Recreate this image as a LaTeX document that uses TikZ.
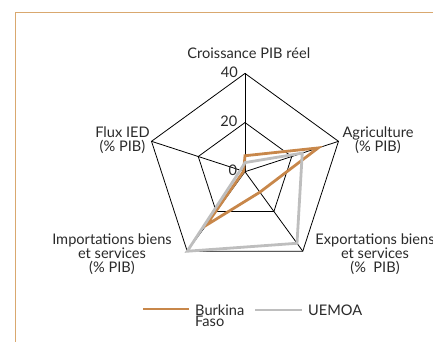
\documentclass[tikz,border=0pt]{standalone}
\usepackage{fontspec}
\setmainfont{Lato}
\definecolor{bfcol}{HTML}{C8874A}
\definecolor{uecol}{HTML}{BEBEBE}
\definecolor{framecol}{HTML}{D9A86F}
\definecolor{txt}{HTML}{2A2A2A}
\begin{document}
\begin{tikzpicture}[x=1pt,y=1pt,
  grid/.style={draw=black,line width=0.8pt,line join=miter},
  bf/.style={draw=bfcol,line width=2.8pt,line join=miter},
  ue/.style={draw=uecol,line width=2.8pt,line join=miter},
  framestyle/.style={draw=framecol,line width=1pt},
  lab/.style={text=txt,font=\fontsize{14.6}{14}\selectfont,inner sep=0pt,align=center,anchor=base},
]
\useasboundingbox (0,-342) rectangle (433,0);
\draw[framestyle] (15.3,-342) -- (15.3,-12.7) -- (433,-12.7);
\coordinate (c) at (245,-171.7);
\def\R{98.3}
\def\s{2.4575}
% axis ends
\path (c) ++(90:\R) coordinate (a1);
\path (c) ++(18:\R) coordinate (a2);
\path (c) ++(-54:\R) coordinate (a3);
\path (c) ++(-126:\R) coordinate (a4);
\path (c) ++(162:\R) coordinate (a5);
% 20 level
\path (c) ++(90:\R/2) coordinate (b1);
\path (c) ++(18:\R/2) coordinate (b2);
\path (c) ++(-54:\R/2) coordinate (b3);
\path (c) ++(-126:\R/2) coordinate (b4);
\path (c) ++(162:\R/2) coordinate (b5);
\draw[grid] (a1) -- (a2) -- (a3) -- (a4) -- (a5) -- cycle;
\draw[grid] (b1) -- (b2) -- (b3) -- (b4) -- (b5) -- cycle;
\foreach \i in {1,...,5} {\draw[grid] (c) -- (a\i);}
% Burkina Faso
\path (c) ++(90:{6.5*\s}) coordinate (p1);
\path (c) ++(18:{31.3*\s}) coordinate (p2);
\path (c) ++(-54:{10.3*\s}) coordinate (p3);
\path (c) ++(-126:{27*\s}) coordinate (p4);
\path (c) ++(162:{0.6*\s}) coordinate (p5);
% UEMOA
\path (c) ++(90:{3.7*\s}) coordinate (q1);
\path (c) ++(18:{24.5*\s}) coordinate (q2);
\path (c) ++(-54:{36*\s}) coordinate (q3);
\path (c) ++(-126:{40*\s}) coordinate (q4);
\path (c) ++(162:{2*\s}) coordinate (q5);
\draw[bf] (p1) -- (p2) -- (p3) -- (p4) -- (p5) -- cycle;
\draw[ue] (q1) -- (q2) -- (q3) -- (q4) -- (q5) -- cycle;
% scale labels
\node[lab,anchor=base east] (n40) at (238,-77.3) {40};
\node[lab,anchor=base east] (n20) at (237.5,-126.7) {20};
\node[lab,anchor=base east] (n0) at (237.3,-175.7) {0};
% axis labels (base = baseline of last line)
\node[lab] (t1) at (248.8,-58.3) {Croissance PIB réel};
\node[lab] (t2) at (378,-151.7) {Agriculture\\(\% PIB)};
\node[lab] (t3) at (375,-272.7) {Exportations biens\\et services\\(\%\ \ PIB)};
\node[lab] (t4) at (112,-272.7) {Importations biens\\et services\\(\% PIB)};
\node[lab] (t5) at (122.5,-151.7) {Flux IED\\(\% PIB)};
% legend
\coordinate (l1a) at (143,-309);
\coordinate (l1b) at (189,-309);
\coordinate (l2a) at (255,-310);
\coordinate (l2b) at (302,-310);
\draw[bf] (l1a) -- (l1b);
\draw[ue] (l2a) -- (l2b);
\node[lab,align=left,anchor=base west,font=\fontsize{14.6}{11}\selectfont] (lg1) at (195,-326) {Burkina\\Faso};
\node[lab,anchor=base west] (lg2) at (308,-315) {UEMOA};
\end{tikzpicture}
\end{document}
